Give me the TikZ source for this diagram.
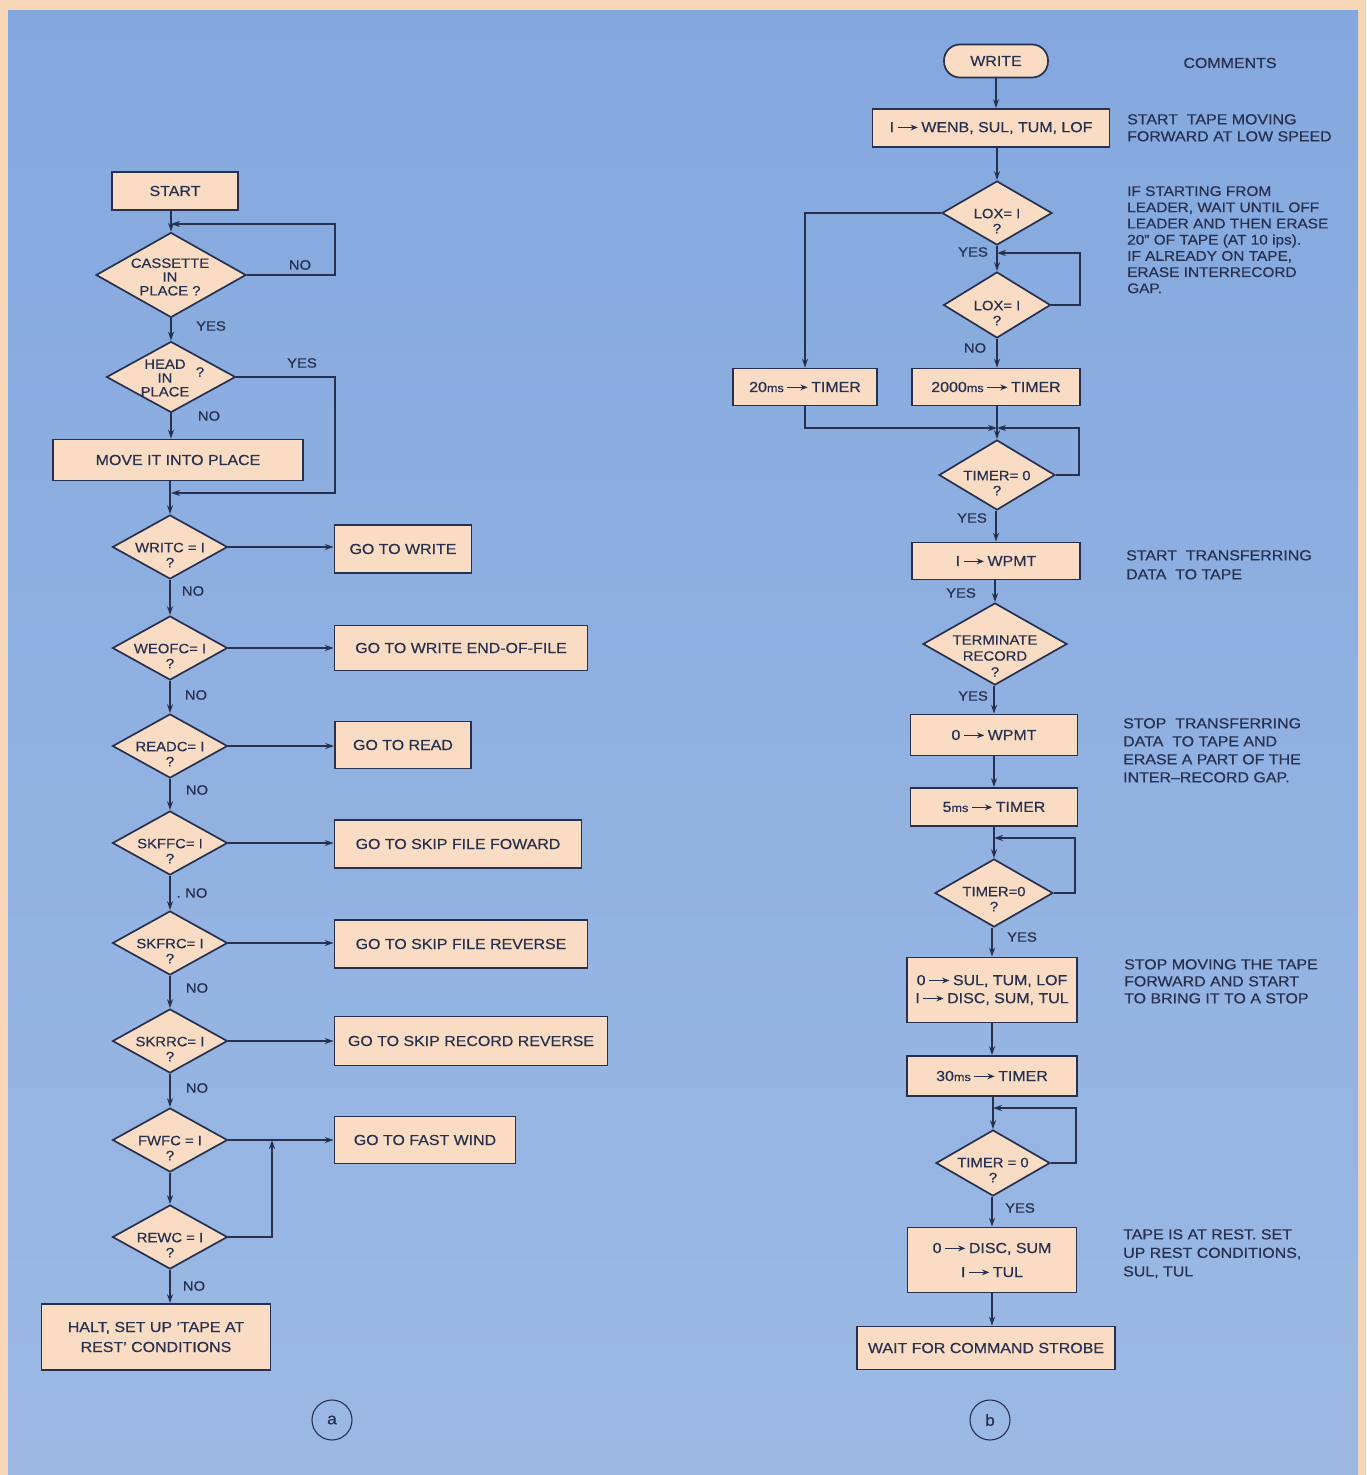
\documentclass[tikz,border=0pt]{standalone}
\usepackage{fontspec}
\setmainfont{Liberation Sans}[FakeStretch=1.1,FakeBold=0.5]
\usetikzlibrary{shapes.geometric,arrows.meta,calc}
\definecolor{bgblue}{HTML}{84A8DE}
\definecolor{bgblue2}{HTML}{9CB9E4}
\definecolor{peach}{HTML}{F9DCC3}
\definecolor{framec}{HTML}{F7D6B5}
\definecolor{ln}{HTML}{27304F}
\newcommand\ta{\kern0.2em\tikz[baseline=-0.32em,x=1em,y=1em]\draw[draw=ln,line width=0.09em,-{Stealth[length=0.5em,width=0.4em]}] (0,0) -- (1.4,0);\kern0.2em}
\newcommand\ms{{\fontsize{11.5}{11.5}\selectfont ms}}
\begin{document}
\begin{tikzpicture}[x=1pt,y=-1pt,
  box/.style={draw=ln,fill=peach,line width=1.7pt,inner sep=0pt,text=ln,font=\fontsize{14.5}{18}\selectfont,align=center},
  dia/.style={diamond,draw=ln,fill=peach,line width=1.7pt,inner sep=0pt},
  dtxt/.style={text=ln,inner sep=0pt,font=\fontsize{13.5}{15}\selectfont,align=center},
  lab/.style={text=ln,inner sep=0pt,font=\fontsize{13.5}{13.5}\selectfont},
  com/.style={text=ln,inner sep=0pt,align=left,anchor=north west},
  con/.style={draw=ln,line width=1.7pt},
  arr/.style={con,-{Stealth[length=9pt,width=6pt]}},
  lowdia/.style={dia,minimum width=115pt,minimum height=64pt},
  circ/.style={circle,draw=ln,line width=1.1pt,minimum size=40pt,inner sep=0pt,text=ln,font=\fontsize{16}{16}\selectfont}
]
\useasboundingbox (0,0) rectangle (1366,1475);
\fill[framec] (0,0) rectangle (1366,1475);
\shade[top color=bgblue,bottom color=bgblue2] (8,10) rectangle (1358,1475);

% ---------------- (a) ----------------
\node[box,minimum width=126pt,minimum height=38pt] (start) at (175,191) {START};
\node[dia,minimum width=150pt,minimum height=85pt] (cas) at (171,275) {};
\node[dtxt,font=\fontsize{13.5}{13.8}\selectfont] (cast) at (170,277) {CASSETTE\\IN\\PLACE ?};
\node[dia,minimum width=129pt,minimum height=71pt] (head) at (171,377) {};
\node[dtxt,font=\fontsize{13.5}{13.8}\selectfont] (headt) at (165,378) {HEAD\\IN\\PLACE};
\node[dtxt] (headq) at (200,372) {?};
\node[box,minimum width=250pt,minimum height=41pt] (move) at (178,460) {MOVE IT INTO PLACE};

\node[lowdia] (writc) at (170,547) {};
\node[dtxt] (writct) at (170,555) {WRITC = I\\?};
\node[lowdia] (weofc) at (170,648) {};
\node[dtxt] (weofct) at (170,656) {WEOFC= I\\?};
\node[lowdia] (readc) at (170,746) {};
\node[dtxt] (readct) at (170,754) {READC= I\\?};
\node[lowdia] (skffc) at (170,843) {};
\node[dtxt] (skffct) at (170,851) {SKFFC= I\\?};
\node[lowdia] (skfrc) at (170,943) {};
\node[dtxt] (skfrct) at (170,951) {SKFRC= I\\?};
\node[lowdia] (skrrc) at (170,1041) {};
\node[dtxt] (skrrct) at (170,1049) {SKRRC= I\\?};
\node[lowdia] (fwfc) at (170,1140) {};
\node[dtxt] (fwfct) at (170,1148) {FWFC = I\\?};
\node[lowdia] (rewc) at (170,1237) {};
\node[dtxt] (rewct) at (170,1245) {REWC = I\\?};

\node[box,minimum width=137pt,minimum height=48pt] (gw) at (403,549) {GO TO WRITE};
\node[box,minimum width=253pt,minimum height=45pt] (gweof) at (461,648) {GO TO WRITE END-OF-FILE};
\node[box,minimum width=136pt,minimum height=47pt] (gr) at (403,745) {GO TO READ};
\node[box,minimum width=247pt,minimum height=48pt] (gsff) at (458,844) {GO TO SKIP FILE FOWARD};
\node[box,minimum width=253pt,minimum height=48pt] (gsfr) at (461,944) {GO TO SKIP FILE REVERSE};
\node[box,minimum width=273pt,minimum height=49pt] (gsrr) at (471,1041) {GO TO SKIP RECORD REVERSE};
\node[box,minimum width=181pt,minimum height=47pt] (gfw) at (425,1140) {GO TO FAST WIND};
\node[box,minimum width=229pt,minimum height=66pt,font=\fontsize{14.5}{20}\selectfont] (halt) at (156,1337) {HALT, SET UP 'TAPE AT\\REST' CONDITIONS};

\node[circ] (ca) at (332,1420) {a};

% labels (a)
\node[lab] (l1) at (300,265) {NO};
\node[lab] (l2) at (211,326) {YES};
\node[lab] (l3) at (302,363) {YES};
\node[lab] (l4) at (209,416) {NO};
\node[lab] (l5) at (193,591) {NO};
\node[lab] (l6) at (196,695) {NO};
\node[lab] (l7) at (197,790) {NO};
\node[lab] (l8) at (192,893) {.\,\,NO};
\node[lab] (l9) at (197,988) {NO};
\node[lab] (l10) at (197,1088) {NO};
\node[lab] (l11) at (194,1286) {NO};

% connectors (a)
\coordinate (j0) at (171,224);
\coordinate (c0) at (335,224);
\coordinate (j1) at (171,493);
\coordinate (c1) at (335,493);
\coordinate (j7) at (272,1140);
\draw[arr] (start.south -| cas.north) -- (cas.north);
\draw[arr] (cas.east) -| (c0) -- (j0);
\draw[arr] (cas.south) -- (head.north);
\draw[arr] (head.south) -- (head.south |- move.north);
\draw[arr] (head.east) -| (c1) -- (j1);
\draw[arr] (move.south -| writc.north) -- (writc.north);
\draw[arr] (writc.south) -- (weofc.north);
\draw[arr] (weofc.south) -- (readc.north);
\draw[arr] (readc.south) -- (skffc.north);
\draw[arr] (skffc.south) -- (skfrc.north);
\draw[arr] (skfrc.south) -- (skrrc.north);
\draw[arr] (skrrc.south) -- (fwfc.north);
\draw[arr] (fwfc.south) -- (rewc.north);
\draw[arr] (rewc.south) -- (rewc.south |- halt.north);
\draw[arr] (writc.east) -- (writc.east -| gw.west);
\draw[arr] (weofc.east) -- (weofc.east -| gweof.west);
\draw[arr] (readc.east) -- (readc.east -| gr.west);
\draw[arr] (skffc.east) -- (skffc.east -| gsff.west);
\draw[arr] (skfrc.east) -- (skfrc.east -| gsfr.west);
\draw[arr] (skrrc.east) -- (skrrc.east -| gsrr.west);
\draw[arr] (fwfc.east) -- (fwfc.east -| gfw.west);
\draw[arr] (rewc.east) -| (j7);

% ---------------- (b) ----------------
\node[box,rounded corners=16pt,minimum width=104pt,minimum height=33pt] (write) at (996,61) {WRITE};
\node[box,minimum width=237pt,minimum height=38pt] (wenb) at (991,128) {I\ta WENB, SUL, TUM, LOF};
\node[dia,minimum width=110pt,minimum height=64pt] (lox1) at (997,213) {};
\node[dtxt] (lox1t) at (997,221) {LOX= I\\?};
\node[dia,minimum width=107pt,minimum height=66pt] (lox2) at (997,305) {};
\node[dtxt] (lox2t) at (997,313) {LOX= I\\?};
\node[box,minimum width=144pt,minimum height=37pt] (t20) at (805,387) {20\ms\ta TIMER};
\node[box,minimum width=168pt,minimum height=37pt] (t2000) at (996,387) {2000\ms\ta TIMER};
\node[dia,minimum width=116pt,minimum height=70pt] (tim1) at (997,475) {};
\node[dtxt] (tim1t) at (997,483) {TIMER= 0\\?};
\node[box,minimum width=168pt,minimum height=37pt] (wpmt1) at (996,561) {I\ta WPMT};
\node[dia,minimum width=144pt,minimum height=82pt] (term) at (995,644) {};
\node[dtxt,font=\fontsize{13.5}{16}\selectfont] (termt) at (995,656) {TERMINATE\\RECORD\\?};
\node[box,minimum width=167pt,minimum height=41pt] (wpmt0) at (994,735) {0\ta WPMT};
\node[box,minimum width=167pt,minimum height=38pt] (t5) at (994,807) {5\ms\ta TIMER};
\node[dia,minimum width=118pt,minimum height=68pt] (tim2) at (994,893) {};
\node[dtxt] (tim2t) at (994,899) {TIMER=0\\?};
\node[box,minimum width=170pt,minimum height=65pt] (sul) at (992,990) {0\ta SUL, TUM, LOF\\I\ta DISC, SUM, TUL};
\node[box,minimum width=170pt,minimum height=40pt] (t30) at (992,1076) {30\ms\ta TIMER};
\node[dia,minimum width=114pt,minimum height=66pt] (tim3) at (993,1163) {};
\node[dtxt] (tim3t) at (993,1170) {TIMER = 0\\?};
\node[box,minimum width=169pt,minimum height=65pt,font=\fontsize{14.5}{24}\selectfont] (dsum) at (992,1260) {0\ta DISC, SUM\\I\ta TUL};
\node[box,minimum width=258pt,minimum height=43pt] (wait) at (986,1348) {WAIT FOR COMMAND STROBE};

\node[circ] (cb) at (990,1420) {b};

% labels (b)
\node[lab] (m1) at (973,252) {YES};
\node[lab] (m2) at (975,348) {NO};
\node[lab] (m3) at (972,518) {YES};
\node[lab] (m4) at (961,593) {YES};
\node[lab] (m5) at (973,696) {YES};
\node[lab] (m6) at (1022,937) {YES};
\node[lab] (m7) at (1020,1208) {YES};

% comments
\node[text=ln,inner sep=0pt,font=\fontsize{14.5}{17}\selectfont] (comh) at (1230,63) {COMMENTS};
\node[com,font=\fontsize{14.5}{17}\selectfont] (cm1) at (1127,114) {START\ \ TAPE MOVING\\FORWARD AT LOW SPEED};
\node[com,font=\fontsize{14}{16.2}\selectfont] (cm2) at (1127,186) {IF STARTING FROM\\LEADER, WAIT UNTIL OFF\\LEADER AND THEN ERASE\\20" OF TAPE (AT 10 ips).\\IF ALREADY ON TAPE,\\ERASE INTERRECORD\\GAP.};
\node[com,font=\fontsize{14.5}{19}\selectfont] (cm3) at (1126,550) {START\ \ TRANSFERRING\\DATA\ \ TO TAPE};
\node[com,font=\fontsize{14.5}{18}\selectfont] (cm4) at (1123,718) {STOP\ \ TRANSFERRING\\DATA\ \ TO TAPE AND\\ERASE A PART OF THE\\INTER--RECORD GAP.};
\node[com,font=\fontsize{14.5}{17}\selectfont] (cm5) at (1124,959) {STOP MOVING THE TAPE\\FORWARD AND START\\TO BRING IT TO A STOP};
\node[com,font=\fontsize{14.5}{18.5}\selectfont] (cm6) at (1123,1229) {TAPE IS AT REST. SET\\UP REST CONDITIONS,\\SUL, TUL};

% connectors (b)
\coordinate (k1) at (997,253);
\coordinate (k1r) at (1080,253);
\coordinate (k2) at (997,428);
\coordinate (k2r) at (1079,428);
\coordinate (k3) at (994,838);
\coordinate (k3r) at (1075,838);
\coordinate (k4) at (993,1108);
\coordinate (k4r) at (1076,1108);
\draw[arr] (write.south) -- (write.south |- wenb.north);
\draw[arr] (wenb.south -| lox1.north) -- (lox1.north);
\draw[arr] (lox1.west) -| (t20.north);
\draw[arr] (lox1.south) -- (lox2.north);
\draw[arr] (lox2.east) -| (k1r) -- (k1);
\draw[arr] (lox2.south) -- (lox2.south |- t2000.north);
\draw[arr] (t20.south) |- (k2);
\draw[arr] (t2000.south -| tim1.north) -- (tim1.north);
\draw[arr] (tim1.east) -| (k2r) -- (k2);
\draw[arr] (tim1.south -| wpmt1.north) -- (wpmt1.north);
\draw[arr] (wpmt1.south -| term.north) -- (term.north);
\draw[arr] (term.south -| wpmt0.north) -- (wpmt0.north);
\draw[arr] (wpmt0.south) -- (t5.north);
\draw[arr] (t5.south) -- (tim2.north);
\draw[arr] (tim2.east) -| (k3r) -- (k3);
\draw[arr] (tim2.south -| sul.north) -- (sul.north);
\draw[arr] (sul.south) -- (t30.north);
\draw[arr] (t30.south -| tim3.north) -- (tim3.north);
\draw[arr] (tim3.east) -| (k4r) -- (k4);
\draw[arr] (tim3.south -| dsum.north) -- (dsum.north);
\draw[arr] (dsum.south) -- (dsum.south |- wait.north);
\end{tikzpicture}
\end{document}
